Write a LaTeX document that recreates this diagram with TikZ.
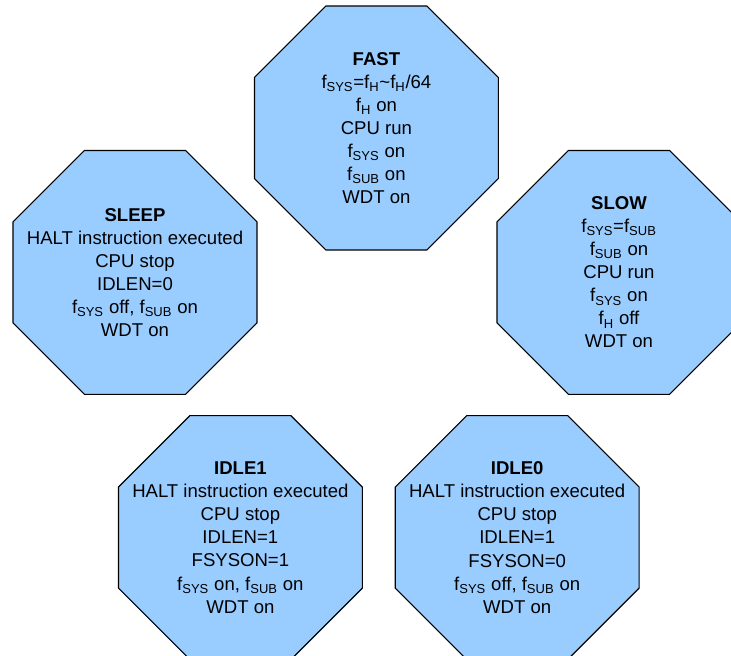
\documentclass[tikz,border=0pt]{standalone}
\usepackage{fontspec}
\setmainfont{Liberation Sans}
\usetikzlibrary{shapes.geometric}
\definecolor{stateblue}{RGB}{153,204,255}
\newcommand{\fq}[1]{f\textsubscript{#1}}

\tikzset{
  octa/.style={draw, fill=stateblue, line width=0.8pt, regular polygon,
    regular polygon sides=8, minimum size=6.6cm, inner sep=0pt},
  info/.style={align=center, inner sep=0pt,
    font=\fontsize{13.2}{16.4}\selectfont}
}

\begin{document}
\begin{tikzpicture}
\useasboundingbox (0,0) rectangle (18.275,16.4);
\clip (0,0) rectangle (18.275,16.4);
% the five octagons
\node [octa] (fast) at (9.41,13.2) {};
\node [octa] (sleep) at (3.375,9.59) {};
\node [octa] (slow) at (15.475,9.59) {};
\node [octa] (idle1) at (6.01,2.96) {};
\node [octa] (idle0) at (12.93,2.96) {};
% texts
\node [info] (fast text) at (fast) {\textbf{FAST}\\ \fq{SYS}=\fq{H}\textasciitilde\fq{H}/64\\ \fq{H} on\\ CPU run\\ \fq{SYS} on\\ \fq{SUB} on\\ WDT on};
\node [info] (sleep text) at (sleep) {\textbf{SLEEP}\\ HALT instruction executed\\ CPU stop\\ IDLEN=0\\ \fq{SYS} off, \fq{SUB} on\\ WDT on};
\node [info] (slow text) at (slow) {\textbf{SLOW}\\ \fq{SYS}=\fq{SUB}\\ \fq{SUB} on\\ CPU run\\ \fq{SYS} on\\ \fq{H} off\\ WDT on};
\node [info] (idle1 text) at (idle1) {\textbf{IDLE1}\\ HALT instruction executed\\ CPU stop\\ IDLEN=1\\ FSYSON=1\\ \fq{SYS} on, \fq{SUB} on\\ WDT on};
\node [info] (idle0 text) at (idle0) {\textbf{IDLE0}\\ HALT instruction executed\\ CPU stop\\ IDLEN=1\\ FSYSON=0\\ \fq{SYS} off, \fq{SUB} on\\ WDT on};
\end{tikzpicture}
\end{document}
